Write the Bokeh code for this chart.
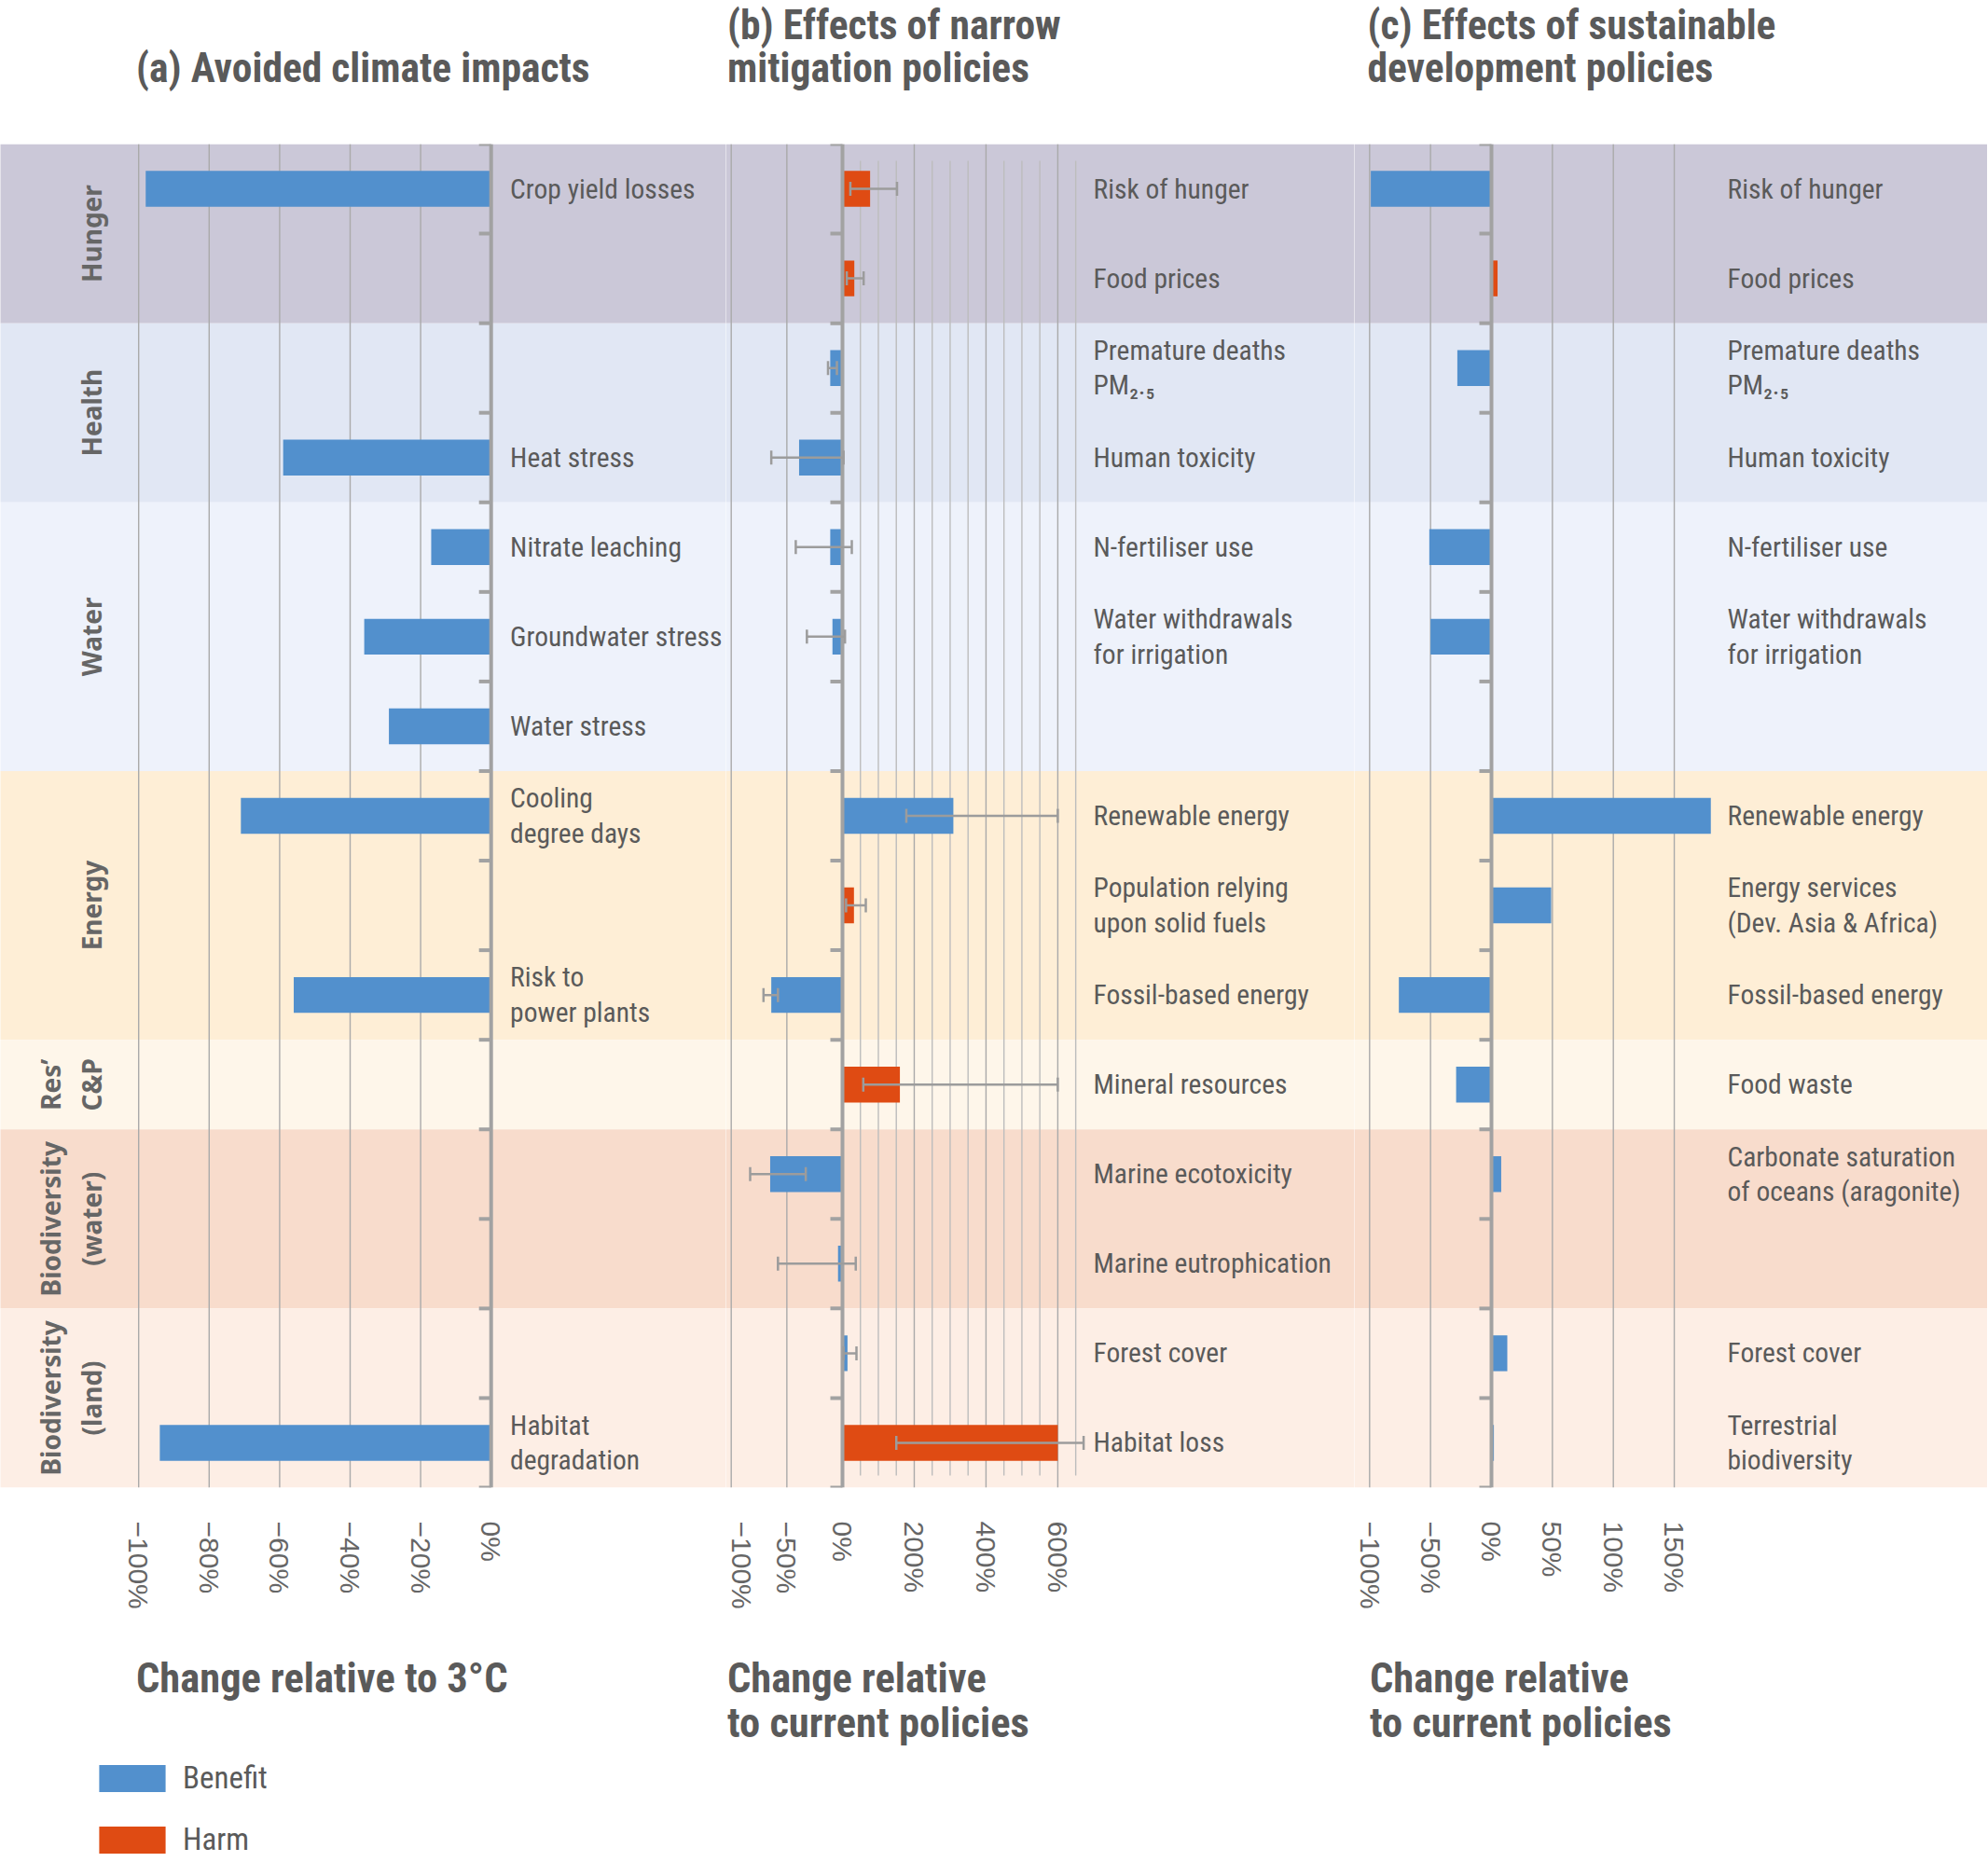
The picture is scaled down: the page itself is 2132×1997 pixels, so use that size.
import math
from bokeh.plotting import figure
from bokeh.models import (Range1d, FixedTicker, ColumnDataSource, Whisker, TeeHead,
                          Legend, LegendItem)
from bokeh.layouts import column, row
from bokeh.embed import file_html
from bokeh.resources import INLINE
from bokeh.core.properties import value

# ---------------- data ----------------
group_names = ["Hunger", "Health", "Water", "Energy", "Res’\nC&P",
               "Biodiversity\n(water)", "Biodiversity\n(land)"]
group_sizes = [2, 2, 3, 3, 1, 2, 2]
group_colors = ["#cbc8d8", "#e1e7f4", "#eef2fb", "#feeed6", "#fef6ea",
                "#f8dccc", "#fdeee5"]

panel_titles = ["(a) Avoided climate impacts",
                "(b) Effects of narrow\nmitigation policies",
                "(c) Effects of sustainable\ndevelopment policies"]
axis_titles = ["Change relative to 3°C",
               "Change relative\nto current policies",
               "Change relative\nto current policies"]

# (a) avoided climate impacts, change relative to 3°C (%)
a_labels = ["Crop yield losses", "", "", "Heat stress", "Nitrate leaching",
            "Groundwater stress", "Water stress", "Cooling\ndegree days", "",
            "Risk to\npower plants", "", "", "", "", "Habitat\ndegradation"]
a_values = [-98, None, None, -59, -17, -36, -29, -71, None, -56,
            None, None, None, None, -94]

# (b) narrow mitigation policies, change relative to current policies (%)
b_labels = ["Risk of hunger", "Food prices", "Premature deaths\nPM₂.₅",
            "Human toxicity", "N-fertiliser use",
            "Water withdrawals\nfor irrigation", "", "Renewable energy",
            "Population relying\nupon solid fuels", "Fossil-based energy",
            "Mineral resources", "Marine ecotoxicity", "Marine eutrophication",
            "Forest cover", "Habitat loss"]
b_values = [77, 33, -11, -39, -11, -9, None, 309, 32, -64, 160, -65, -4, 14, 600]
b_low = [22, 12, -13, -64, -42, -32, None, 178, 10, -71, 58, -83, -58, 3, 150]
b_high = [152, 59, -5, 3, 26, 7, None, 600, 65, -58, 600, -33, 37, 39, 672]
b_effect = ["Harm", "Harm", "Benefit", "Benefit", "Benefit", "Benefit", None,
            "Benefit", "Harm", "Benefit", "Harm", "Benefit", "Benefit",
            "Benefit", "Harm"]

# (c) sustainable development policies, change relative to current policies (%)
c_labels = ["Risk of hunger", "Food prices", "Premature deaths\nPM₂.₅",
            "Human toxicity", "N-fertiliser use",
            "Water withdrawals\nfor irrigation", "", "Renewable energy",
            "Energy services\n(Dev. Asia & Africa)", "Fossil-based energy",
            "Food waste", "Carbonate saturation\nof oceans (aragonite)", "",
            "Forest cover", "Terrestrial\nbiodiversity"]
c_values = [-99, 5, -28, None, -51, -50, None, 180, 49, -76, -29, 8, None, 13, 2]
c_effect = ["Benefit", "Harm", "Benefit", None, "Benefit", "Benefit", None,
            "Benefit", "Benefit", "Benefit", "Benefit", "Benefit", None,
            "Benefit", "Benefit"]

a_ticks = [-100, -80, -60, -40, -20, 0]
a_tick_labels = ["−100%", "−80%", "−60%", "−40%", "−20%", "0%"]
b_ticks = [-100, -50, 0, 200, 400, 600]
b_tick_labels = ["−100%", "−50%", "0%", "200%", "400%", "600%"]
b_fine_grid = [50, 100, 150, 250, 300, 350, 450, 500, 550, 650]
c_ticks = [-100, -50, 0, 50, 100, 150]
c_tick_labels = ["−100%", "−50%", "0%", "50%", "100%", "150%"]
legend_labels = ["Benefit", "Harm"]

# ---------------- style ----------------
BLUE = "#5290cd"
ORANGE = "#df4b13"
EFFECT_COLOR = {"Benefit": BLUE, "Harm": ORANGE}
TEXT = "#5a5a5a"
GRID = "#aaaaaa"
GRID_LIGHT = "#bdbdbd"
AXIS = "#a2a2a2"
ERR = "#9c9c9c"
NARROW = "'Liberation Sans Narrow', 'Roboto Condensed', 'DejaVu Sans Condensed', sans-serif"
TICKFONT = "Liberation Sans"
CATFONT = "Noto Sans"
LABEL_SIZE = "29.5px"
LABEL_PITCH = 37.5  # px between lines of a label
TITLE_SIZE = "43.5px"
TITLE_PITCH = 46.0

N_ROWS = sum(group_sizes)
PAGE_L, PAGE_R, PAGE_H = 0, 2131, 1996
BAND_TOP, BAND_BOT = 154, 1595
ROW_PX = (BAND_BOT - BAND_TOP) / N_ROWS
BOTTOM_BORDER = 150
PANEL_H = (BAND_BOT - BAND_TOP) + BOTTOM_BORDER
HEADER_H = BAND_TOP
FOOTER_H = PAGE_H - HEADER_H - PANEL_H
B_COMPRESS = 3.1  # positive side of panel (b) is compressed


def bx(v):
    return v if v <= 0 else v / B_COMPRESS


def make_panel(left_px, right_px, zero_px, px_per_unit, ticks, tick_labels):
    xs = (left_px - zero_px) / px_per_unit
    xe = (right_px - zero_px) / px_per_unit
    p = figure(width=int(round(right_px - left_px)), height=PANEL_H,
               x_range=Range1d(xs, xe), y_range=Range1d(N_ROWS, 0),
               output_backend="svg", toolbar_location=None,
               y_axis_location=None, min_border=0)
    p.min_border_bottom = BOTTOM_BORDER
    p.xgrid.visible = False
    p.ygrid.visible = False
    p.outline_line_color = None
    p.background_fill_color = "white"
    p.border_fill_color = "white"
    tops, bots = [], []
    start = 0
    for s in group_sizes:
        tops.append(start)
        bots.append(start + s)
        start += s
    p.quad(left=xs - 1, right=xe + 1, top=tops, bottom=bots,
           fill_color=group_colors, line_color=None)
    ax = p.xaxis[0]
    ax.ticker = FixedTicker(ticks=ticks)
    ax.major_label_overrides = {t: l for t, l in zip(ticks, tick_labels)}
    ax.major_label_orientation = "vertical"
    ax.axis_line_color = None
    ax.major_tick_line_color = None
    ax.minor_tick_line_color = None
    ax.major_label_standoff = 30
    ax.major_label_text_font = TICKFONT
    ax.major_label_text_font_size = "30px"
    ax.major_label_text_color = "#666666"
    return p, px_per_unit


def add_grid(p, xs, color=GRID, y0=0.0, y1=None):
    if y1 is None:
        y1 = N_ROWS
    p.segment(x0=xs, y0=[y0] * len(xs), x1=xs, y1=[y1] * len(xs),
              line_color=color, line_width=1.4)


def add_zero_axis(p, ppu):
    p.segment(x0=[0], y0=[0], x1=[0], y1=[N_ROWS], line_color=AXIS, line_width=4)
    ys = list(range(N_ROWS + 1))
    tick_len = 13 / ppu
    p.segment(x0=[0] * len(ys), y0=ys, x1=[-tick_len] * len(ys), y1=ys,
              line_color=AXIS, line_width=4)


def add_bars(p, vals, effects, tf=lambda v: v):
    ys, rs, cs = [], [], []
    for i, (v, e) in enumerate(zip(vals, effects)):
        if v is None:
            continue
        ys.append(i + 0.5)
        rs.append(tf(v))
        cs.append(EFFECT_COLOR[e])
    p.hbar(y=ys, left=0, right=rs, height=0.4, fill_color=cs, line_color=None)


def add_labels(p, labels, x):
    ys, ts = [], []
    for i, t in enumerate(labels):
        if not t:
            continue
        lines = t.split("\n")
        n = len(lines)
        for k, ln in enumerate(lines):
            ys.append(i + 0.5 + (k - (n - 1) / 2) * LABEL_PITCH / ROW_PX)
            ts.append(ln)
    p.text(x=[x] * len(ts), y=ys, text=ts, text_font=value(NARROW),
           text_font_size=LABEL_SIZE, text_color=TEXT, text_align="left",
           text_baseline="middle")


# ---------------- panel (a) ----------------
A_L, A_R = PAGE_L, 778
A_ZERO, A_PPU = 526.2, 3.78
pa, ppu_a = make_panel(A_L, A_R, A_ZERO, A_PPU, a_ticks, a_tick_labels)
add_grid(pa, [t for t in a_ticks if t != 0])
add_bars(pa, a_values, ["Benefit"] * len(a_values))
add_zero_axis(pa, ppu_a)
add_labels(pa, a_labels, (546.6 - A_ZERO) / A_PPU)

# group labels (rotated, one glyph per line)
gx, gy, gt = [], [], []
start = 0
for name, s in zip(group_names, group_sizes):
    lines = name.split("\n")
    n = len(lines)
    for k, ln in enumerate(lines):
        px = 97.0 - (n - 1 - k) * 44.0
        gx.append((px - A_ZERO) / A_PPU)
        gy.append(start + s / 2)
        gt.append(ln)
    start += s
pa.text(x=gx, y=gy, text=gt, angle=math.pi / 2, text_font=value(CATFONT),
        text_font_style="bold", text_font_size="28px", text_color="#666666",
        text_align="center", text_baseline="middle")

# ---------------- panel (b) ----------------
B_L, B_R = 778, 1452
B_ZERO, B_PPU = 903.0, 1.193
b_tick_pos = [bx(t) for t in b_ticks]
pb, ppu_b = make_panel(B_L, B_R, B_ZERO, B_PPU, b_tick_pos, b_tick_labels)
add_grid(pb, [bx(t) for t in b_fine_grid], color=GRID_LIGHT,
         y0=18 / ROW_PX, y1=N_ROWS - 13 / ROW_PX)
add_grid(pb, [bx(t) for t in b_ticks if t != 0])
add_bars(pb, b_values, b_effect, bx)
wy, wl, wh = [], [], []
for i, (lo, hi) in enumerate(zip(b_low, b_high)):
    if lo is None:
        continue
    wy.append(i + 0.5)
    wl.append(bx(lo))
    wh.append(bx(hi))
wsrc = ColumnDataSource(dict(y=wy, lo=wl, hi=wh))
add_zero_axis(pb, ppu_b)
pb.add_layout(Whisker(source=wsrc, base="y", lower="lo", upper="hi",
                      dimension="width", line_color=ERR, line_width=2.5,
                      level="overlay",
                      upper_head=TeeHead(size=15, line_color=ERR, line_width=2.5),
                      lower_head=TeeHead(size=15, line_color=ERR, line_width=2.5)))
add_labels(pb, b_labels, (1172.0 - B_ZERO) / B_PPU)

# ---------------- panel (c) ----------------
C_L, C_R = 1452, PAGE_R
C_ZERO, C_PPU = 1599.0, 1.307
pc, ppu_c = make_panel(C_L, C_R, C_ZERO, C_PPU, c_ticks, c_tick_labels)
add_grid(pc, [t for t in c_ticks if t != 0])
add_bars(pc, c_values, c_effect)
add_zero_axis(pc, ppu_c)
add_labels(pc, c_labels, (1852.0 - C_ZERO) / C_PPU)

# ---------------- header (panel titles) ----------------
hdr = figure(width=PAGE_R - PAGE_L, height=HEADER_H,
             x_range=Range1d(PAGE_L, PAGE_R), y_range=Range1d(BAND_TOP, 0),
             output_backend="svg", toolbar_location=None,
             x_axis_location=None, y_axis_location=None, min_border=0)
hdr.grid.visible = False
hdr.outline_line_color = None
title_x = [145.5, 779.5, 1466.0]
hx, hy, ht = [], [], []
for tx, t in zip(title_x, panel_titles):
    lines = t.split("\n")
    n = len(lines)
    for k, ln in enumerate(lines):
        hx.append(tx)
        hy.append(73.0 - (n - 1 - k) * TITLE_PITCH)
        ht.append(ln)
hdr.text(x=hx, y=hy, text=ht, text_font=value(NARROW),
         text_font_style="bold", text_font_size=TITLE_SIZE, text_color=TEXT,
         text_align="left", text_baseline="middle")

# ---------------- footer (axis titles + legend) ----------------
FOOT_TOP = HEADER_H + PANEL_H
FOOT_BOT = FOOT_TOP + FOOTER_H
ftr = figure(width=PAGE_R - PAGE_L, height=FOOTER_H,
             x_range=Range1d(PAGE_L, PAGE_R), y_range=Range1d(FOOT_BOT, FOOT_TOP),
             output_backend="svg", toolbar_location=None,
             x_axis_location=None, y_axis_location=None, min_border=0)
ftr.grid.visible = False
ftr.outline_line_color = None
at_x = [145.5, 779.5, 1468.5]
fx, fy, ft = [], [], []
for tx, t in zip(at_x, axis_titles):
    for k, ln in enumerate(t.split("\n")):
        fx.append(tx)
        fy.append(1799.0 + k * 48.0)
        ft.append(ln)
ftr.text(x=fx, y=fy, text=ft, text_font=value(NARROW),
         text_font_style="bold", text_font_size="44.5px", text_color=TEXT,
         text_align="left", text_baseline="middle")

# legend swatches need a renderer; keep its data outside the visible area
r_benefit = ftr.quad(left=[-50], right=[-40], top=[FOOT_TOP - 20], bottom=[FOOT_TOP - 30],
                     fill_color=BLUE, line_color=None)
r_harm = ftr.quad(left=[-50], right=[-40], top=[FOOT_TOP - 20], bottom=[FOOT_TOP - 30],
                  fill_color=ORANGE, line_color=None)
# Bokeh insets area glyphs by 10% on each side inside the legend glyph box
legend = Legend(items=[LegendItem(label=legend_labels[0], renderers=[r_benefit]),
                       LegendItem(label=legend_labels[1], renderers=[r_harm])],
                location=(97, 4), orientation="vertical",
                glyph_width=89, glyph_height=36, label_height=36,
                label_standoff=10, spacing=27, padding=0, margin=0,
                border_line_color=None, background_fill_alpha=0,
                label_text_font=NARROW, label_text_font_size="33px",
                label_text_color=TEXT)
ftr.add_layout(legend)

layout = column(hdr, row(pa, pb, pc), ftr)
open("out.html", "w").write(file_html(layout, INLINE))
